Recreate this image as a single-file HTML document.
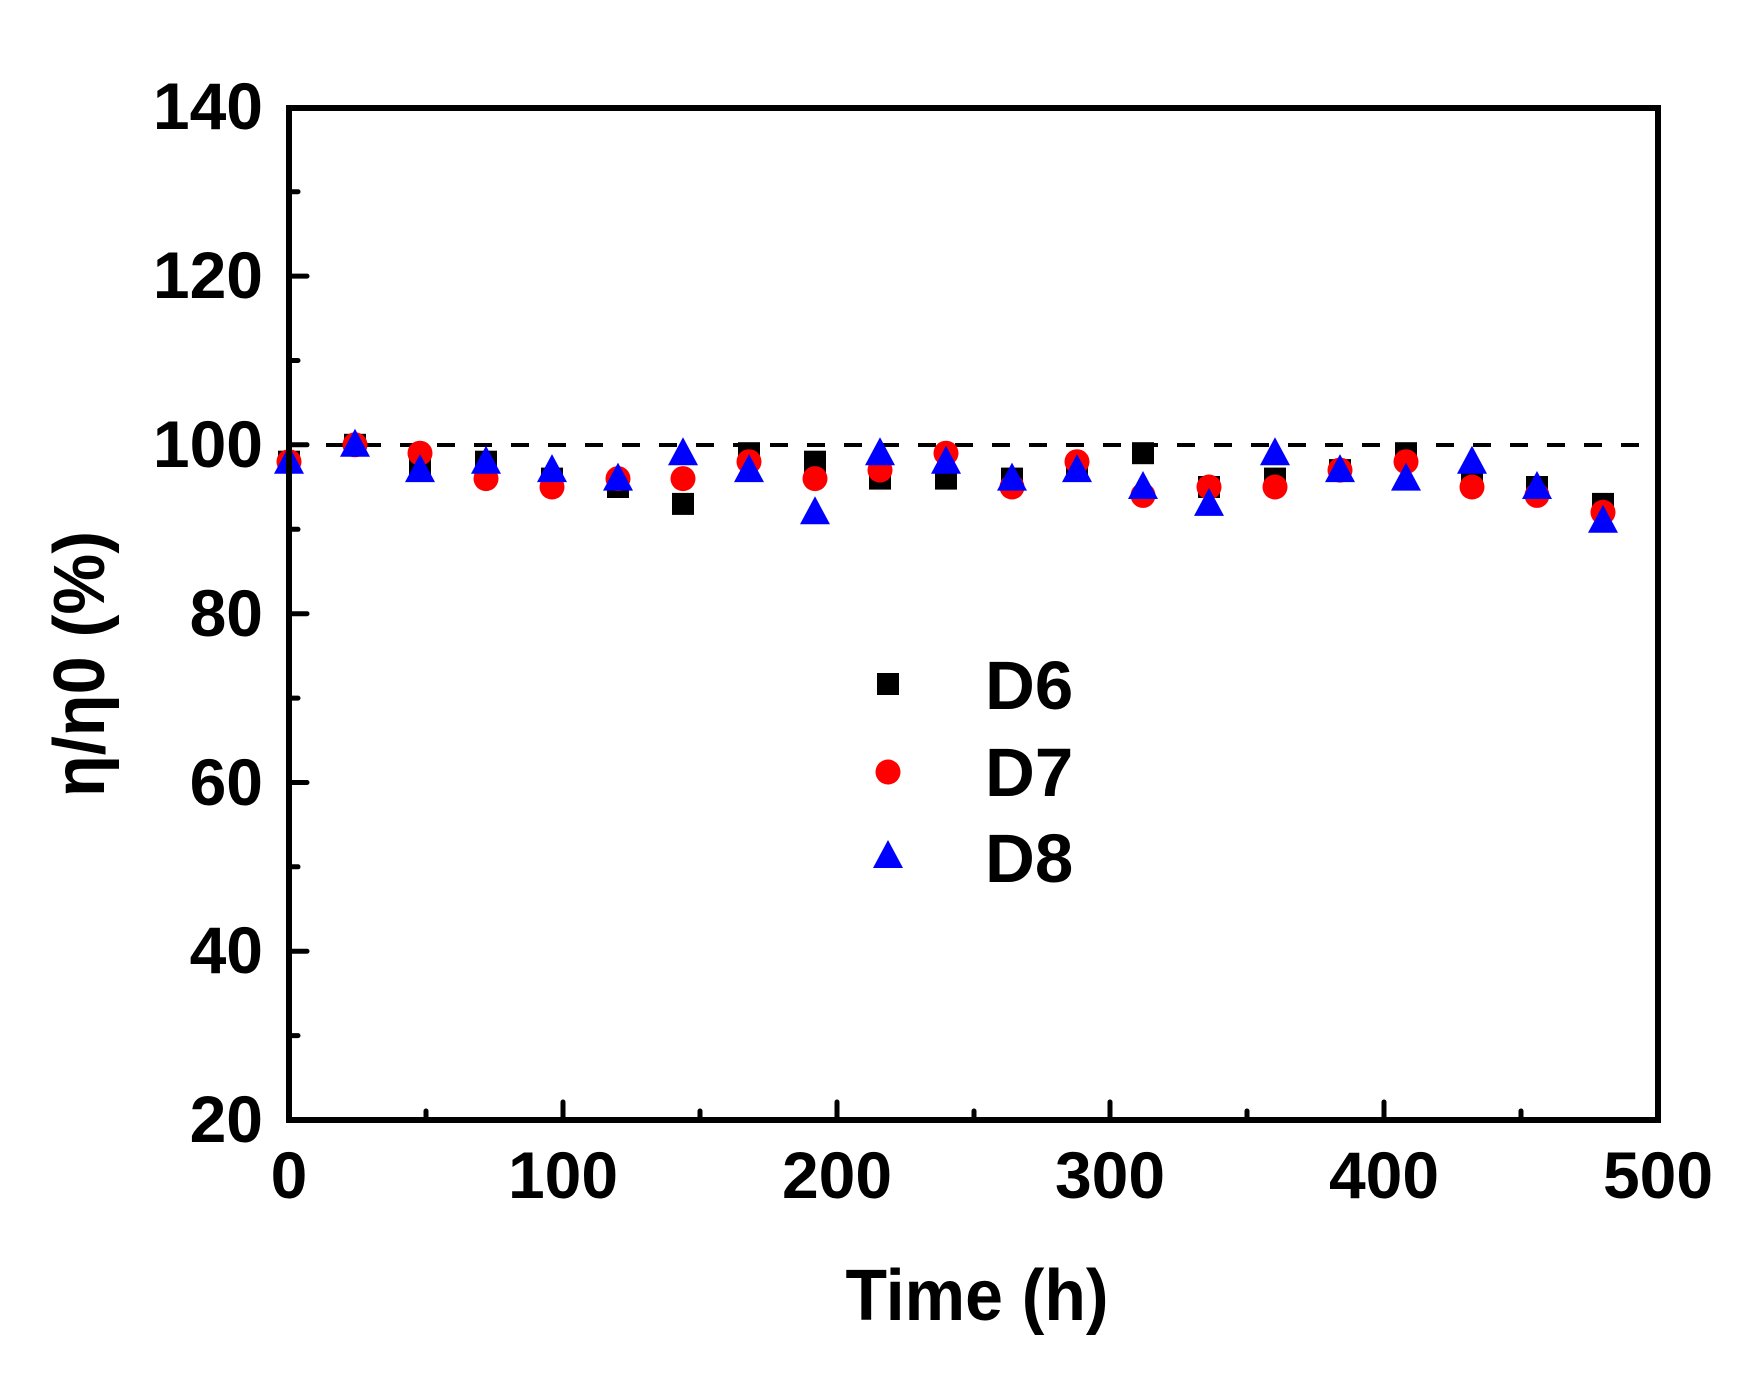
<!DOCTYPE html>
<html><head><meta charset="utf-8"><style>html,body{margin:0;padding:0;background:#fff}svg{display:block}</style></head>
<body>
<svg width="1763" height="1397" viewBox="0 0 1763 1397" xmlns="http://www.w3.org/2000/svg" font-family="Liberation Sans, Arial, sans-serif" font-weight="bold">
<defs>
<rect id="s" x="-11" y="-11" width="22" height="22" fill="#000"/>
<circle id="c" cx="0" cy="0" r="12.5" fill="#ff0000"/>
<polygon id="t" points="0,-16 15,12 -15,12" fill="#0000ff"/>
</defs>
<rect width="1763" height="1397" fill="#fff"/>
<line x1="289" y1="445" x2="1658" y2="445" stroke="#000" stroke-width="4" stroke-dasharray="18 19"/>
<g>
<use href="#s" x="289" y="461.7"/><use href="#s" x="355" y="444.8"/><use href="#s" x="420" y="470.1"/><use href="#s" x="486" y="461.7"/><use href="#s" x="552" y="478.6"/><use href="#s" x="618" y="487"/><use href="#s" x="683" y="503.9"/><use href="#s" x="749" y="453.2"/><use href="#s" x="815" y="461.7"/><use href="#s" x="880" y="478.6"/><use href="#s" x="946" y="478.6"/><use href="#s" x="1012" y="478.6"/><use href="#s" x="1077" y="470.1"/><use href="#s" x="1143" y="453.2"/><use href="#s" x="1209" y="487"/><use href="#s" x="1275" y="478.6"/><use href="#s" x="1340" y="470.1"/><use href="#s" x="1406" y="453.2"/><use href="#s" x="1472" y="478.6"/><use href="#s" x="1537" y="487"/><use href="#s" x="1603" y="503.9"/>
</g>
<g>
<use href="#c" x="289" y="461.7"/><use href="#c" x="355" y="444.8"/><use href="#c" x="420" y="453.2"/><use href="#c" x="486" y="478.6"/><use href="#c" x="552" y="487"/><use href="#c" x="618" y="478.6"/><use href="#c" x="683" y="478.6"/><use href="#c" x="749" y="461.7"/><use href="#c" x="815" y="478.6"/><use href="#c" x="880" y="470.1"/><use href="#c" x="946" y="453.2"/><use href="#c" x="1012" y="487"/><use href="#c" x="1077" y="461.7"/><use href="#c" x="1143" y="495.4"/><use href="#c" x="1209" y="487"/><use href="#c" x="1275" y="487"/><use href="#c" x="1340" y="470.1"/><use href="#c" x="1406" y="461.7"/><use href="#c" x="1472" y="487"/><use href="#c" x="1537" y="495.4"/><use href="#c" x="1603" y="512.3"/>
</g>
<g>
<use href="#t" x="289" y="461.7"/><use href="#t" x="355" y="444.8"/><use href="#t" x="420" y="470.1"/><use href="#t" x="486" y="461.7"/><use href="#t" x="552" y="470.1"/><use href="#t" x="618" y="478.6"/><use href="#t" x="683" y="453.2"/><use href="#t" x="749" y="470.1"/><use href="#t" x="815" y="512.3"/><use href="#t" x="880" y="453.2"/><use href="#t" x="946" y="461.7"/><use href="#t" x="1012" y="478.6"/><use href="#t" x="1077" y="470.1"/><use href="#t" x="1143" y="487"/><use href="#t" x="1209" y="503.9"/><use href="#t" x="1275" y="453.2"/><use href="#t" x="1340" y="470.1"/><use href="#t" x="1406" y="478.6"/><use href="#t" x="1472" y="461.7"/><use href="#t" x="1537" y="487"/><use href="#t" x="1603" y="520.8"/>
</g>
<rect x="289" y="108" width="1369" height="1012" fill="none" stroke="#000" stroke-width="6"/>
<g stroke="#000" stroke-width="5" stroke-linecap="round">
<line x1="289" y1="1120" x2="289" y2="1102"/><line x1="426" y1="1120" x2="426" y2="1111"/>
<line x1="563" y1="1120" x2="563" y2="1102"/><line x1="700" y1="1120" x2="700" y2="1111"/>
<line x1="837" y1="1120" x2="837" y2="1102"/><line x1="974" y1="1120" x2="974" y2="1111"/>
<line x1="1110" y1="1120" x2="1110" y2="1102"/><line x1="1247" y1="1120" x2="1247" y2="1111"/>
<line x1="1384" y1="1120" x2="1384" y2="1102"/><line x1="1521" y1="1120" x2="1521" y2="1111"/>
<line x1="289" y1="1035.6" x2="298" y2="1035.6"/><line x1="289" y1="951.2" x2="307" y2="951.2"/>
<line x1="289" y1="866.8" x2="298" y2="866.8"/><line x1="289" y1="782.5" x2="307" y2="782.5"/>
<line x1="289" y1="698.1" x2="298" y2="698.1"/><line x1="289" y1="613.7" x2="307" y2="613.7"/>
<line x1="289" y1="529.3" x2="298" y2="529.3"/><line x1="289" y1="444.8" x2="307" y2="444.8"/>
<line x1="289" y1="360.5" x2="298" y2="360.5"/><line x1="289" y1="276.1" x2="307" y2="276.1"/>
<line x1="289" y1="191.7" x2="298" y2="191.7"/>
</g>
<g font-size="66" text-anchor="end" fill="#000">
<text x="263" y="1142">20</text><text x="263" y="973">40</text><text x="263" y="805">60</text>
<text x="263" y="636">80</text><text x="263" y="467">100</text><text x="263" y="298">120</text><text x="263" y="129">140</text>
</g>
<g font-size="66" text-anchor="middle" fill="#000">
<text x="289" y="1198">0</text><text x="563" y="1198">100</text><text x="837" y="1198">200</text>
<text x="1110" y="1198">300</text><text x="1384" y="1198">400</text><text x="1658" y="1198">500</text>
</g>
<text x="977" y="1320" font-size="72" text-anchor="middle" textLength="263" lengthAdjust="spacingAndGlyphs">Time (h)</text>
<text transform="translate(104,664) rotate(-90)" font-size="72" text-anchor="middle" textLength="266" lengthAdjust="spacingAndGlyphs">η/η0 (%)</text>
<use href="#s" x="888" y="684"/>
<use href="#c" x="888" y="772"/>
<use href="#t" x="888" y="856"/>
<g font-size="69" fill="#000">
<text x="985" y="709">D6</text><text x="985" y="796">D7</text><text x="985" y="882">D8</text>
</g>
</svg>
</body></html>
